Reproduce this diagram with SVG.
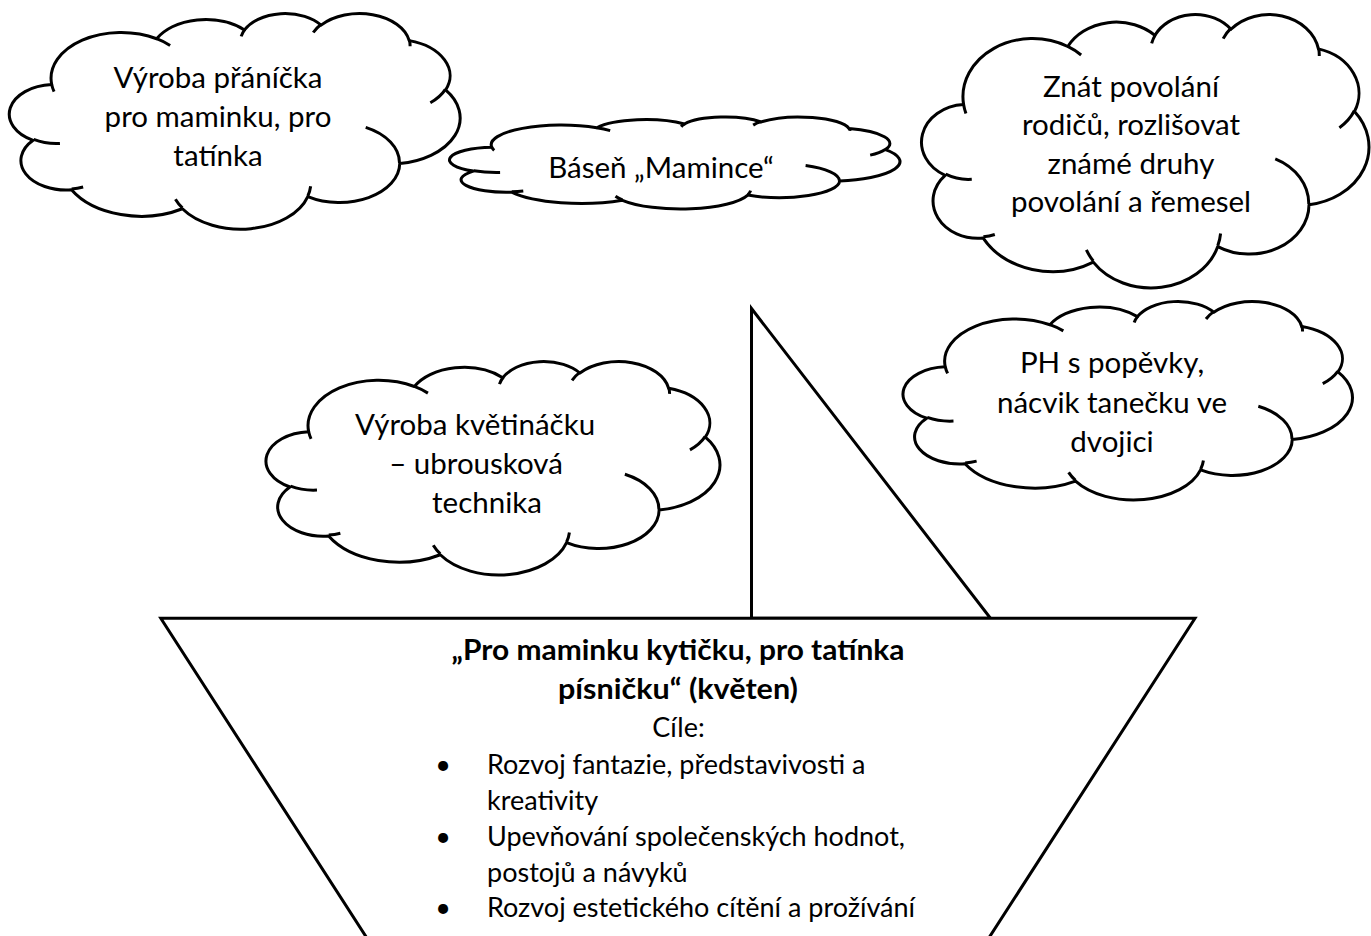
<svg xmlns="http://www.w3.org/2000/svg" width="1371" height="936" viewBox="0 0 1371 936">
<style>
.cloud{fill:#fff;stroke:#000;stroke-width:3;vector-effect:non-scaling-stroke;stroke-linejoin:round}
.inner{fill:none;stroke:#000;stroke-width:3;vector-effect:non-scaling-stroke}
.shape{fill:#fff;stroke:#000;stroke-width:3;stroke-linejoin:miter}
.t{font-family:Lato,"Liberation Sans",sans-serif;font-size:29.5px;fill:#000;text-anchor:middle}
.bt{font-family:Lato,"Liberation Sans",sans-serif;font-size:27px;fill:#000}
.c{text-anchor:middle}
.bold{font-weight:700;font-size:28px}
</style>
<defs>
  <path id="cloud-outline" d="M39.00 143.70 A67.53 91.90 0 0 1 140.05 52.01 A53.33 72.67 0 0 1 224.56 34.31 A43.65 59.45 0 0 1 298.32 24.79 A48.57 65.95 0 0 1 383.18 55.75 A53.33 72.73 0 0 1 418.18 154.59 A67.75 92.20 0 0 1 374.04 302.02 A57.85 78.67 0 0 1 285.55 368.12 A67.52 92.15 0 0 1 164.80 392.63 A77.20 105.43 0 0 1 58.04 354.69 A43.60 59.18 0 0 1 21.13 255.47 A43.45 59.45 0 0 1 39.00 143.70 Z"/>
</defs>
<rect width="1371" height="936" fill="#fff"/>

<g id="boat">
  <polygon id="sail" class="shape" points="751.5,308.5 751.5,618.3 990.5,618.3"/>
  <polygon id="hull" class="shape" points="160.8,618.3 1195,618.3 988.5,938.5 367.2,938.5"/>
  <text class="bt c bold" x="678" y="660" textLength="453" lengthAdjust="spacingAndGlyphs">„Pro maminku kytičku, pro tatínka</text>
  <text class="bt c bold" x="678" y="698.5" textLength="240" lengthAdjust="spacingAndGlyphs">písničku“ (květen)</text>
  <text class="bt c" x="678.5" y="736.5">Cíle:</text>
  <text class="bt c" x="443" y="774">•</text>
  <text class="bt" x="487" y="774">Rozvoj fantazie, představivosti a</text>
  <text class="bt" x="487" y="810">kreativity</text>
  <text class="bt c" x="443" y="846">•</text>
  <text class="bt" x="487" y="846">Upevňování společenských hodnot,</text>
  <text class="bt" x="487" y="882">postojů a návyků</text>
  <text class="bt c" x="443" y="917">•</text>
  <text class="bt" x="487" y="917">Rozvoj estetického cítění a prožívání</text>
</g>

<g id="cloud-1">
  <g transform="translate(10.8 13.5) scale(1.0388 0.4991) translate(0.37 -1.4)">
    <path class="cloud" d="M39.00 143.70 A67.53 91.90 0 0 1 140.05 52.01 A53.33 72.67 0 0 1 224.56 34.31 A43.65 59.45 0 0 1 298.32 24.79 A48.57 65.95 0 0 1 383.18 55.75 A53.33 72.73 0 0 1 418.18 154.59 A67.75 92.20 0 0 1 374.04 302.02 A57.85 78.67 0 0 1 285.55 368.12 A67.52 92.15 0 0 1 164.80 392.63 A77.20 105.43 0 0 1 58.04 354.69 A43.60 59.18 0 0 1 21.13 255.47 A43.45 59.45 0 0 1 39.00 143.70 Z"/>
    <path class="inner" d="M46.93 261.77 A43.45 59.45 0 0 1 21.60 253.80 M69.28 348.99 A43.60 59.18 0 0 1 58.20 352.80 M164.78 390.90 A67.52 92.15 0 0 1 158.10 373.50 M288.27 347.51 A67.52 92.15 0 0 1 285.60 366.60 M341.29 229.54 A57.85 78.67 0 0 1 373.80 300.90 M417.98 153.54 A53.33 72.73 0 0 1 403.50 180.30 M383.24 54.26 A48.57 65.95 0 0 1 384.00 66.90 M290.78 39.52 A48.57 65.95 0 0 1 298.20 23.40 M221.41 47.20 A43.65 59.45 0 0 1 225.00 33.30 M140.00 51.92 A67.53 91.90 0 0 1 153.00 65.41 M41.27 157.89 A67.53 91.90 0 0 1 39.00 143.70"/>
  </g>
  <text class="t" x="218" y="88">Výroba přáníčka</text>
  <text class="t" x="218" y="127">pro maminku, pro</text>
  <text class="t" x="218" y="166">tatínka</text>
</g>

<g id="cloud-2">
  <g transform="translate(451 117) scale(1.0379 0.2129) translate(0.37 -1.4)">
    <path class="cloud" d="M39.00 143.70 A67.53 91.90 0 0 1 140.05 52.01 A53.33 72.67 0 0 1 224.56 34.31 A43.65 59.45 0 0 1 298.32 24.79 A48.57 65.95 0 0 1 383.18 55.75 A53.33 72.73 0 0 1 418.18 154.59 A67.75 92.20 0 0 1 374.04 302.02 A57.85 78.67 0 0 1 285.55 368.12 A67.52 92.15 0 0 1 164.80 392.63 A77.20 105.43 0 0 1 58.04 354.69 A43.60 59.18 0 0 1 21.13 255.47 A43.45 59.45 0 0 1 39.00 143.70 Z"/>
    <path class="inner" d="M46.93 261.77 A43.45 59.45 0 0 1 21.60 253.80 M69.28 348.99 A43.60 59.18 0 0 1 58.20 352.80 M164.78 390.90 A67.52 92.15 0 0 1 158.10 373.50 M288.27 347.51 A67.52 92.15 0 0 1 285.60 366.60 M341.29 229.54 A57.85 78.67 0 0 1 373.80 300.90 M417.98 153.54 A53.33 72.73 0 0 1 403.50 180.30 M383.24 54.26 A48.57 65.95 0 0 1 384.00 66.90 M290.78 39.52 A48.57 65.95 0 0 1 298.20 23.40 M221.41 47.20 A43.65 59.45 0 0 1 225.00 33.30 M140.00 51.92 A67.53 91.90 0 0 1 153.00 65.41 M41.27 157.89 A67.53 91.90 0 0 1 39.00 143.70"/>
  </g>
  <text class="t" x="661" y="177.5">Báseň „Mamince“</text>
</g>

<g id="cloud-3">
  <g transform="translate(923 14.5) scale(1.0310 0.6328) translate(0.37 -1.4)">
    <path class="cloud" d="M39.00 143.70 A67.53 91.90 0 0 1 140.05 52.01 A53.33 72.67 0 0 1 224.56 34.31 A43.65 59.45 0 0 1 298.32 24.79 A48.57 65.95 0 0 1 383.18 55.75 A53.33 72.73 0 0 1 418.18 154.59 A67.75 92.20 0 0 1 374.04 302.02 A57.85 78.67 0 0 1 285.55 368.12 A67.52 92.15 0 0 1 164.80 392.63 A77.20 105.43 0 0 1 58.04 354.69 A43.60 59.18 0 0 1 21.13 255.47 A43.45 59.45 0 0 1 39.00 143.70 Z"/>
    <path class="inner" d="M46.93 261.77 A43.45 59.45 0 0 1 21.60 253.80 M69.28 348.99 A43.60 59.18 0 0 1 58.20 352.80 M164.78 390.90 A67.52 92.15 0 0 1 158.10 373.50 M288.27 347.51 A67.52 92.15 0 0 1 285.60 366.60 M341.29 229.54 A57.85 78.67 0 0 1 373.80 300.90 M417.98 153.54 A53.33 72.73 0 0 1 403.50 180.30 M383.24 54.26 A48.57 65.95 0 0 1 384.00 66.90 M290.78 39.52 A48.57 65.95 0 0 1 298.20 23.40 M221.41 47.20 A43.65 59.45 0 0 1 225.00 33.30 M140.00 51.92 A67.53 91.90 0 0 1 153.00 65.41 M41.27 157.89 A67.53 91.90 0 0 1 39.00 143.70"/>
  </g>
  <text class="t" x="1131" y="96.5">Znát povolání</text>
  <text class="t" x="1131" y="135">rodičů, rozlišovat</text>
  <text class="t" x="1131" y="173.5">známé druhy</text>
  <text class="t" x="1131" y="212">povolání a řemesel</text>
</g>

<g id="cloud-4">
  <g transform="translate(267.5 361.5) scale(1.0460 0.4940) translate(0.37 -1.4)">
    <path class="cloud" d="M39.00 143.70 A67.53 91.90 0 0 1 140.05 52.01 A53.33 72.67 0 0 1 224.56 34.31 A43.65 59.45 0 0 1 298.32 24.79 A48.57 65.95 0 0 1 383.18 55.75 A53.33 72.73 0 0 1 418.18 154.59 A67.75 92.20 0 0 1 374.04 302.02 A57.85 78.67 0 0 1 285.55 368.12 A67.52 92.15 0 0 1 164.80 392.63 A77.20 105.43 0 0 1 58.04 354.69 A43.60 59.18 0 0 1 21.13 255.47 A43.45 59.45 0 0 1 39.00 143.70 Z"/>
    <path class="inner" d="M46.93 261.77 A43.45 59.45 0 0 1 21.60 253.80 M69.28 348.99 A43.60 59.18 0 0 1 58.20 352.80 M164.78 390.90 A67.52 92.15 0 0 1 158.10 373.50 M288.27 347.51 A67.52 92.15 0 0 1 285.60 366.60 M341.29 229.54 A57.85 78.67 0 0 1 373.80 300.90 M417.98 153.54 A53.33 72.73 0 0 1 403.50 180.30 M383.24 54.26 A48.57 65.95 0 0 1 384.00 66.90 M290.78 39.52 A48.57 65.95 0 0 1 298.20 23.40 M221.41 47.20 A43.65 59.45 0 0 1 225.00 33.30 M140.00 51.92 A67.53 91.90 0 0 1 153.00 65.41 M41.27 157.89 A67.53 91.90 0 0 1 39.00 143.70"/>
  </g>
  <text class="t" x="475" y="435">Výroba květináčku</text>
  <text class="t" x="476" y="474">– ubrousková</text>
  <text class="t" x="487" y="513">technika</text>
</g>

<g id="cloud-5">
  <g transform="translate(904.5 301.5) scale(1.0356 0.4593) translate(0.37 -1.4)">
    <path class="cloud" d="M39.00 143.70 A67.53 91.90 0 0 1 140.05 52.01 A53.33 72.67 0 0 1 224.56 34.31 A43.65 59.45 0 0 1 298.32 24.79 A48.57 65.95 0 0 1 383.18 55.75 A53.33 72.73 0 0 1 418.18 154.59 A67.75 92.20 0 0 1 374.04 302.02 A57.85 78.67 0 0 1 285.55 368.12 A67.52 92.15 0 0 1 164.80 392.63 A77.20 105.43 0 0 1 58.04 354.69 A43.60 59.18 0 0 1 21.13 255.47 A43.45 59.45 0 0 1 39.00 143.70 Z"/>
    <path class="inner" d="M46.93 261.77 A43.45 59.45 0 0 1 21.60 253.80 M69.28 348.99 A43.60 59.18 0 0 1 58.20 352.80 M164.78 390.90 A67.52 92.15 0 0 1 158.10 373.50 M288.27 347.51 A67.52 92.15 0 0 1 285.60 366.60 M341.29 229.54 A57.85 78.67 0 0 1 373.80 300.90 M417.98 153.54 A53.33 72.73 0 0 1 403.50 180.30 M383.24 54.26 A48.57 65.95 0 0 1 384.00 66.90 M290.78 39.52 A48.57 65.95 0 0 1 298.20 23.40 M221.41 47.20 A43.65 59.45 0 0 1 225.00 33.30 M140.00 51.92 A67.53 91.90 0 0 1 153.00 65.41 M41.27 157.89 A67.53 91.90 0 0 1 39.00 143.70"/>
  </g>
  <text class="t" x="1112" y="373">PH s popěvky,</text>
  <text class="t" x="1112" y="412.5">nácvik tanečku ve</text>
  <text class="t" x="1112" y="452">dvojici</text>
</g>
</svg>
